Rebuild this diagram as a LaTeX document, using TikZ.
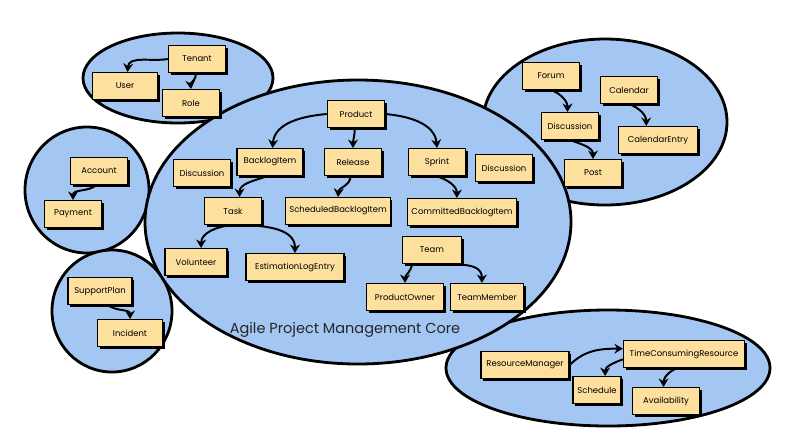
\documentclass[tikz,border=0pt]{standalone}
\usepackage{fontspec}
\setmainfont{Poppins}
\usetikzlibrary{arrows.meta,shadows}

\definecolor{bubblefill}{RGB}{163,199,242}
\definecolor{cardfill}{RGB}{253,224,158}

\tikzset{
  bubble/.style={draw=black,fill=bubblefill,line width=2pt},
  card/.style={draw=black,fill=cardfill,line width=0.9pt,
    minimum width=1.43cm,minimum height=0.67cm,inner xsep=2.5pt,
    font=\fontsize{6}{7}\selectfont,
    drop shadow={shadow xshift=1.6pt,shadow yshift=-1.6pt,fill=black,opacity=1}},
  wd/.style={minimum width=#1*0.025cm},
  link/.style={draw,line width=1.4pt,-{Stealth[length=6pt,width=7pt]}}
}

\begin{document}
\begin{tikzpicture}[x=0.025cm,y=0.025cm]

        \useasboundingbox (0,0) rectangle (800,-443);

        % bounded contexts
        \path[bubble] (178,-78)  ellipse [x radius=95,  y radius=45];
        \path[bubble] (87,-190)  ellipse [x radius=62,  y radius=63];
        \path[bubble] (112,-311) ellipse [x radius=60,  y radius=61];
        \path[bubble] (605,-122) ellipse [x radius=122, y radius=83];
        \path[bubble] (608,-368) ellipse [x radius=162, y radius=58];
        \path[bubble] (358,-222) ellipse [x radius=213, y radius=142];

        \node[font=\fontsize{10.3}{12}\selectfont,text=black!85] (core) at (345,-330) {Agile Project Management Core};

        \begin{scope}[every node/.style={card}]
          % identity and access
          \node (tenant) at (197,-59) {Tenant};
          \node[wd=65] (user) at (125,-86) {User};
          \node (role) at (191,-103) {Role};

          \node (account) at (99,-171) {Account};
          \node (payment) at (73,-214) {Payment};

          \node[wd=64] (supportplan) at (100,-291) {SupportPlan};
          \node[wd=65] (incident) at (130,-333) {Incident};

          % core
          \node (product) at (356,-114) {Product};
          \node[wd=66] (backlogitem) at (270,-162) {BacklogItem};
          \node (release) at (353,-162) {Release};
          \node (sprint) at (437,-162) {Sprint};
          \node (discleft) at (202,-173) {Discussion};
          \node (discmid) at (504,-168) {Discussion};
          \node (task) at (233,-211) {Task};
          \node[wd=100] (scheduled) at (338,-211) {ScheduledBacklogItem};
          \node[wd=109] (committed) at (462,-212) {CommittedBacklogItem};
          \node[wd=62] (volunteer) at (196,-262) {Volunteer};
          \node[wd=98] (estimation) at (295,-267) {EstimationLogEntry};
          \node[wd=59] (team) at (432,-250) {Team};
          \node[wd=77] (productowner) at (405,-297) {ProductOwner};
          \node[wd=73] (teammember) at (487,-297) {TeamMember};

          % collaboration
          \node (forum) at (551,-76) {Forum};
          \node (calendar) at (629,-90) {Calendar};
          \node (discright) at (570,-126) {Discussion};
          \node[wd=79] (calendarentry) at (658,-140) {CalendarEntry};
          \node (post) at (593,-173) {Post};

          % resources
          \node[wd=88] (resmanager) at (525,-365) {ResourceManager};
          \node[wd=121] (resource) at (684,-354) {TimeConsumingResource};
          \node[wd=48] (schedule) at (597,-390) {Schedule};
          \node[wd=67] (availability) at (666,-401) {Availability};
        \end{scope}

        \begin{scope}[every edge/.style={link}]
          \path (tenant.west) edge[out=190,in=85] (user.80);
          \path (tenant.-95) edge[out=-80,in=95] (role.north);
          \path (account.-100) edge[out=220,in=90] (payment.north);
          \path (supportplan.-60) edge[out=-40,in=90] (incident.north);

          \path (product.west) edge[out=185,in=85] (backlogitem.80);
          \path (product.-95) edge[out=-90,in=90] (release.north);
          \path (product.east) edge[out=-5,in=95] (sprint.north);
          \path (backlogitem.-100) edge[out=200,in=90] (task.65);
          \path (release.-100) edge[out=-90,in=85] (scheduled.north);
          \path (sprint.-95) edge[out=-15,in=90] (committed.110);
          \path (task.-95) edge[out=185,in=90] (volunteer.70);
          \path (task.-85) edge[out=0,in=90] (estimation.north);
          \path (team.-145) edge[out=-95,in=90] (productowner.north);
          \path (team.-120) edge[out=-5,in=90] (teammember.110);

          \path (forum.south) edge[out=-20,in=90] (discright.100);
          \path (discright.south) edge[out=-20,in=90] (post.north);
          \path (calendar.south) edge[out=-20,in=90] (calendarentry.130);

          \path (resmanager.east) edge[out=45,in=180] (resource.175);
          \path (resource.185) edge[out=200,in=90] (schedule.60);
          \path (resource.-115) edge[out=200,in=90] (availability.100);
        \end{scope}

      \end{tikzpicture}
\end{document}
